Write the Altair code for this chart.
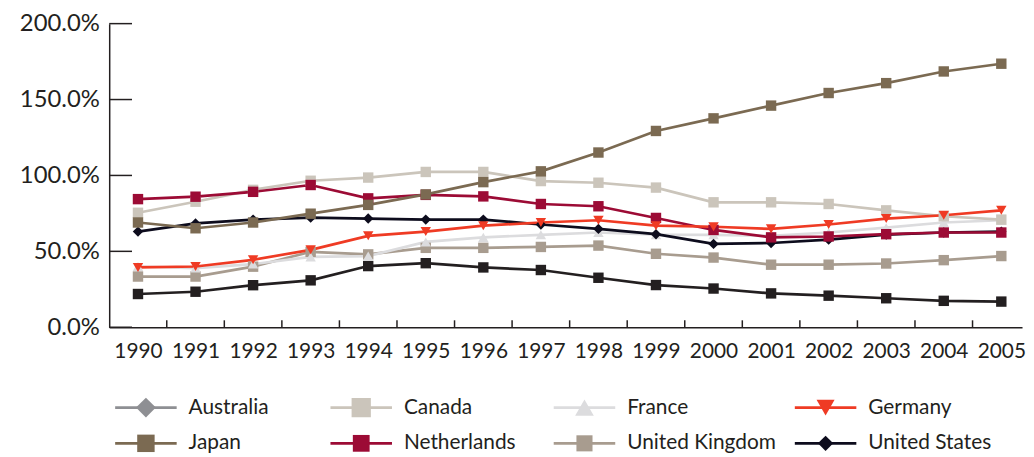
import altair as alt
import pandas as pd

# ---- data (percent of GDP) ----
years = list(range(1990, 2006))
countries = ["Australia", "Canada", "France", "Germany",
             "Japan", "Netherlands", "United Kingdom", "United States"]
australia = [21.9, 23.4, 27.7, 30.9, 40.3, 42.2, 39.4, 37.7, 32.6, 27.8, 25.5, 22.3, 20.8, 19.1, 17.4, 16.9]
canada = [75.4, 82.7, 90.5, 96.5, 98.6, 102.3, 102.3, 96.3, 95.2, 92.0, 82.3, 82.3, 81.2, 77.0, 73.1, 70.9]
france = [40.0, 39.0, 41.6, 46.3, 46.9, 56.2, 59.2, 60.9, 62.4, 61.0, 60.9, 60.2, 62.4, 65.6, 69.0, 70.5]
germany = [39.4, 40.0, 44.4, 51.0, 60.2, 63.0, 66.9, 69.0, 70.5, 66.9, 66.2, 64.8, 67.7, 71.6, 73.8, 77.0]
japan = [69.0, 65.2, 69.0, 74.8, 80.6, 87.5, 95.6, 102.7, 115.1, 129.3, 137.6, 146.0, 154.3, 160.8, 168.5, 173.6]
netherlands = [84.4, 86.0, 89.2, 93.7, 84.9, 87.2, 86.2, 81.2, 79.7, 72.0, 64.1, 59.2, 59.8, 61.3, 62.4, 62.4]
united_kingdom = [33.4, 33.4, 39.9, 49.7, 48.0, 52.3, 52.3, 52.9, 53.8, 48.4, 45.9, 41.2, 41.2, 42.0, 44.2, 46.9]
united_states = [63.0, 68.4, 70.9, 72.2, 71.6, 70.9, 70.9, 67.7, 64.8, 61.3, 54.9, 55.5, 57.7, 61.0, 62.4, 63.0]
y_tick_values = [0, 50, 100, 150, 200]
legend_cols = [0, 1, 2, 3, 0, 1, 2, 3]
legend_rows = [0, 0, 0, 0, 1, 1, 1, 1]

series = {
    "Australia": australia, "Canada": canada, "France": france, "Germany": germany,
    "Japan": japan, "Netherlands": netherlands, "United Kingdom": united_kingdom,
    "United States": united_states,
}
draw_order = ["Australia", "United Kingdom", "France", "United States", "Canada",
              "Netherlands", "Japan", "Germany"]

# ---- styles ----
INK = "#231f20"
FONT = "Lato"
chart_colors = ["#231f20", "#cbc5bb", "#dcdcde", "#ef3b24", "#7b6a52", "#9c0b35", "#a89c8f", "#0d0c1d"]
chart_shapes = ["square", "square", "triangle-up", "triangle-down", "square", "square", "square", "diamond"]
chart_sizes = [110, 110, 130, 140, 110, 110, 110, 210]
legend_colors = ["#8e8f93", "#cbc5bb", "#dcdcde", "#ef3b24", "#7b6a52", "#9c0b35", "#a89c8f", "#0d0c1d"]
legend_shapes = ["diamond", "square", "triangle-up", "triangle-down", "square", "square", "square", "diamond"]
legend_sizes = [400, 240, 260, 260, 240, 240, 240, 400]

rows = []
for c in draw_order:
    for yr, v in zip(years, series[c]):
        rows.append({"country": c, "year": yr, "value": v})
df = pd.DataFrame(rows)

W, H = 920, 306

x_scale = alt.Scale(domain=[1989.5, 2005.36], nice=False, zero=False)
y_scale = alt.Scale(domain=[0, 200], nice=False)

color_sc = alt.Scale(domain=countries, range=chart_colors)
shape_sc = alt.Scale(domain=countries, range=chart_shapes)
size_sc = alt.Scale(domain=countries, range=chart_sizes)

x_axis = alt.Axis(values=years, format="d", title=None, ticks=False, grid=False,
                  labelFontSize=21, labelPadding=13, labelFlush=False,
                  labelColor=INK, labelFont=FONT, domainColor=INK, domainWidth=1.5)
y_axis = alt.Axis(values=y_tick_values, labelExpr="format(datum.value, '.1f') + '%'",
                  title=None, ticks=False, grid=False, labelFontSize=24, labelPadding=10,
                  minExtent=102, maxExtent=102, labelColor=INK, labelFont=FONT,
                  domainColor=INK, domainWidth=1.5)

X = alt.X("year:Q", scale=x_scale, axis=x_axis)
Y = alt.Y("value:Q", scale=y_scale, axis=y_axis)

lines = alt.Chart(df).mark_line(strokeWidth=2.7).encode(
    x=X, y=Y,
    color=alt.Color("country:N", scale=color_sc, legend=None),
    detail="country:N",
)
points = alt.Chart(df).mark_point(filled=True, opacity=1).encode(
    x=X, y=Y,
    color=alt.Color("country:N", scale=color_sc, legend=None),
    shape=alt.Shape("country:N", scale=shape_sc, legend=None),
    size=alt.Size("country:N", scale=size_sc, legend=None),
)

ytick_df = pd.DataFrame({"value": y_tick_values})
yticks = alt.Chart(ytick_df).mark_rule(color=INK, strokeWidth=1.5).encode(
    y=Y, x=alt.value(0), x2=alt.value(23),
)
xtick_df = pd.DataFrame({"year": [y + 0.5 for y in years[:-1]]})
xticks = alt.Chart(xtick_df).mark_rule(color=INK, strokeWidth=1.5).encode(
    x=X, y=alt.value(H), y2=alt.value(H - 7),
)

main = alt.layer(lines, yticks, xticks, points).properties(width=W, height=H)

# ---- legend ----
leg_df = pd.DataFrame({"item": countries, "col": legend_cols, "row": legend_rows})
lx = alt.Scale(domain=[0, 1, 2, 3], range=[37, 254, 479, 722])
ly = alt.Scale(domain=[0, 1], range=[0, 36])
lcolor = alt.Scale(domain=countries, range=legend_colors)
lshape = alt.Scale(domain=countries, range=legend_shapes)
lsize = alt.Scale(domain=countries, range=legend_sizes)

LX = alt.X("col:Q", scale=lx, axis=None)
LY = alt.Y("row:Q", scale=ly, axis=None)

leg_base = alt.Chart(leg_df)
leg_rules = leg_base.mark_rule(strokeWidth=2.6, xOffset=-31, x2Offset=31).encode(
    x=LX, x2="col:Q", y=LY,
    color=alt.Color("item:N", scale=lcolor, legend=None),
)
leg_pts = leg_base.mark_point(filled=True, opacity=1).encode(
    x=LX, y=LY,
    color=alt.Color("item:N", scale=lcolor, legend=None),
    shape=alt.Shape("item:N", scale=lshape, legend=None),
    size=alt.Size("item:N", scale=lsize, legend=None),
)
leg_text = leg_base.mark_text(align="left", baseline="middle", dx=43, fontSize=21,
                              font=FONT, color=INK).encode(
    x=LX, y=LY, text="item:N",
)
legend = alt.layer(leg_rules, leg_pts, leg_text).properties(width=W, height=36)

chart = alt.vconcat(main, legend, spacing=36).resolve_scale(
    color="independent", shape="independent", size="independent",
    x="independent", y="independent",
).properties(
    padding={"left": 0, "top": 2, "right": 0, "bottom": 0}
).configure(font=FONT, background="white").configure_view(stroke=None)

chart.save("out.html", embed_options={"renderer": "svg", "actions": False})
